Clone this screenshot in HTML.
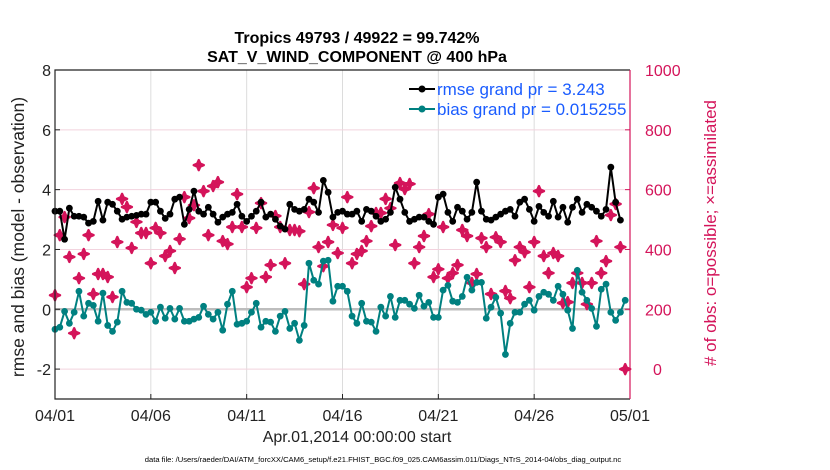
<!DOCTYPE html>
<html><head><meta charset="utf-8"><style>
html,body{margin:0;padding:0;background:#fff;}
svg{display:block;font-family:"Liberation Sans",Arial,sans-serif;}
</style></head><body>
<svg id="chart" width="830" height="470" viewBox="0 0 830 470" xmlns="http://www.w3.org/2000/svg">
<rect width="830" height="470" fill="#fff"/>
<text x="357" y="43" text-anchor="middle" font-size="16" font-weight="bold">Tropics 49793 / 49922 = 99.742%</text>
<text x="357" y="62" text-anchor="middle" font-size="16" font-weight="bold">SAT_V_WIND_COMPONENT @ 400 hPa</text>
<g id="grid"></g>
<g id="marks"></g>
<g id="axes"></g>
<text transform="translate(24,237) rotate(-90)" text-anchor="middle" font-size="17.5" fill="#222">rmse and bias (model - observation)</text>
<text transform="translate(716,233) rotate(-90)" text-anchor="middle" font-size="17" fill="#d4145a"># of obs: o=possible; ×=assimilated</text>
<text x="357" y="442" text-anchor="middle" font-size="16" fill="#222">Apr.01,2014 00:00:00 start</text>
<text x="383" y="462" text-anchor="middle" font-size="7.6" fill="#000">data file: /Users/raeder/DAI/ATM_forcXX/CAM6_setup/f.e21.FHIST_BGC.f09_025.CAM6assim.011/Diags_NTrS_2014-04/obs_diag_output.nc</text>
<g>
<line x1="409" y1="89" x2="435" y2="89" stroke="#000" stroke-width="2"/>
<circle cx="422" cy="89" r="3.5" fill="#000"/>
<text x="437" y="95" font-size="17" fill="#1a5cff">rmse grand pr = 3.243</text>
<line x1="409" y1="109" x2="435" y2="109" stroke="#008080" stroke-width="2"/>
<circle cx="422" cy="109" r="3.5" fill="#008080"/>
<text x="437" y="115" font-size="17" fill="#1a5cff">bias grand pr = 0.015255</text>
</g>
</svg>
<script>
const rmse = [3.28,3.28,2.34,3.38,3.11,3.11,3.08,2.88,2.94,3.61,2.98,3.58,3.51,3.28,3.01,3.08,3.11,3.14,3.18,
3.18,3.58,3.58,3.28,3.04,3.18,3.68,3.75,2.84,3.34,3.95,3.28,3.18,3.41,3.18,2.91,3.08,3.18,3.24,3.51,3.11,
2.94,3.11,3.28,3.58,3.08,3.18,3.01,2.78,2.68,3.51,3.34,3.28,3.34,3.68,3.58,3.24,4.31,3.91,3.08,3.24,
3.28,3.18,3.18,3.28,2.94,3.34,3.28,3.11,2.94,3.01,3.24,4.08,3.68,3.24,2.94,3.01,3.08,3.08,2.94,
2.84,3.75,3.85,3.24,2.94,3.41,3.28,3.01,3.24,4.25,3.28,3.01,2.98,3.08,3.18,3.28,3.34,3.11,3.58,3.68,
3.34,2.94,3.44,3.24,3.11,3.61,3.08,3.41,2.91,3.41,3.68,3.24,3.51,3.41,3.28,3.11,3.34,4.75,3.58,2.98];
const bias = [-0.67,-0.60,-0.07,-0.47,-0.10,0.60,-0.23,0.20,0.13,-0.40,0.54,-0.54,-0.74,-0.43,0.60,0.23,0.20,0,-0.03,
-0.17,-0.10,-0.40,0.07,-0.30,0.03,-0.33,0.03,-0.40,-0.40,-0.33,-0.27,0.10,-0.17,-0.33,-0.10,-0.70,0.17,0.60,-0.50,-0.47,
-0.40,-0.10,0.20,-0.60,-0.40,-0.43,-0.74,-0.23,-0.07,-0.64,-0.47,-1.04,-0.54,1.54,0.97,0.84,1.61,1.64,0.27,0.77,
0.77,0.60,-0.23,-0.47,0.20,-0.40,-0.43,-0.74,0.07,-0.23,0.43,-0.27,0.30,0.30,0.17,0.03,0.47,0.10,0.23,-0.27,
-0.27,0.64,0.80,0.27,0.23,0.43,1.07,0.64,0.90,0.90,-0.30,0.07,0.40,-0.13,-1.51,-0.47,-0.10,-0.10,0.17,0.30,
-0.03,0.43,0.57,0.50,0.30,0.77,0.50,-0.03,-0.64,1.30,0.57,0.30,0.03,-0.57,0.67,0.84,-0.10,-0.37,-0.10,0.30];
const obsCount = [247,448,508,375,120,304,385,448,251,318,318,308,241,425,569,542,405,492,455,455,
354,472,455,378,395,338,435,575,505,548,682,595,448,612,625,428,418,475,585,475,
274,304,472,555,308,348,512,475,354,465,465,461,284,525,605,408,344,425,482,388,
472,575,354,385,395,428,478,522,522,569,538,415,622,602,619,354,408,445,518,308,
334,475,304,321,348,465,445,288,318,438,408,251,441,425,261,237,364,408,391,274,
425,595,378,321,388,378,221,224,288,321,288,217,288,428,321,361,515,552,408,0];
const xTickLabels = ["04/01","04/06","04/11","04/16","04/21","04/26","05/01"];
const xTickDays = [0,5,10,15,20,25,30];
const yLeftTicks = [-2,0,2,4,6,8];
const yRightTicks = [0,200,400,600,800,1000];
const stepDays = 0.25;

const NS = "http://www.w3.org/2000/svg";
const L = 55, R = 630, T = 70, B = 399;
const xMin = 0, xMax = 30, yMin = -3, yMax = 8;
function xs(d){ return L + (d - xMin) / (xMax - xMin) * (R - L); }
function ys(v){ return B - (v - yMin) / (yMax - yMin) * (B - T); }
function yr(c){ return ys(c / 100 - 2); }
function mk(tag, attrs, parent){
  const e = document.createElementNS(NS, tag);
  for (const k in attrs) e.setAttribute(k, attrs[k]);
  parent.appendChild(e);
  return e;
}
const grid = document.getElementById('grid');
const marks = document.getElementById('marks');
const axes = document.getElementById('axes');

xTickDays.forEach((d, i) => {
  if (i > 0 && i < xTickDays.length - 1) {
    const g = mk('line', {x1: xs(d), x2: xs(d), y1: T, y2: B, stroke: '#dcdcdc', 'stroke-width': 1}, grid);
    
    
  }
  const t = mk('text', {x: xs(d), y: 421, 'text-anchor': 'middle', 'font-size': 16, fill: '#222'}, axes);
  t.textContent = xTickLabels[i];
  
  
  const tk = mk('line', {x1: xs(d), x2: xs(d), y1: B, y2: B - 5, stroke: '#222', 'stroke-width': 1}, axes);
  
  
});
yLeftTicks.forEach(v => {
  if (v !== 0 && v !== 8) {
    const g = mk('line', {x1: L, x2: R, y1: ys(v), y2: ys(v), stroke: '#f2d3de', 'stroke-width': 1}, grid);
    
    
  }
  const t = mk('text', {x: 51, y: ys(v) + 6, 'text-anchor': 'end', 'font-size': 16, fill: '#222'}, axes);
  t.textContent = v;
  
  
  const tk = mk('line', {x1: L, x2: L + 5, y1: ys(v), y2: ys(v), stroke: '#222', 'stroke-width': 1}, axes);
  
  
});
const zl = mk('line', {x1: L, x2: R, y1: ys(0), y2: ys(0), stroke: '#bdbdbd', 'stroke-width': 2.5}, grid);



yRightTicks.forEach(c => {
  const t = mk('text', {x: 645, y: yr(c) + 6, 'text-anchor': 'start', 'font-size': 16, fill: '#d4145a'}, axes);
  t.textContent = c;
  if (c === 0) t.setAttribute('x', 653);
  
  
  const tk = mk('line', {x1: R, x2: R - 5, y1: yr(c), y2: yr(c), stroke: '#d4145a', 'stroke-width': 1}, axes);
  
  
});

obsCount.forEach((c, i) => {
  const cx = xs(i * stepDays), cy = yr(c), s = 5;
  const p = mk('polygon', {points: `${cx},${cy-s} ${cx+1.5},${cy-1.5} ${cx+s},${cy} ${cx+1.5},${cy+1.5} ${cx},${cy+s} ${cx-1.5},${cy+1.5} ${cx-s},${cy} ${cx-1.5},${cy-1.5}`, fill: '#d4145a', stroke: '#d4145a', 'stroke-width': 2.4, 'stroke-linejoin': 'round'}, marks);
  
  
});

function series(vals, color, name){
  const pts = vals.map((v, i) => `${xs(i * stepDays).toFixed(1)},${ys(v).toFixed(1)}`).join(' ');
  const pl = mk('polyline', {points: pts, fill: 'none', stroke: color, 'stroke-width': 2, 'stroke-linejoin': 'round'}, marks);
  
  
  vals.forEach((v, i) => {
    const c = mk('circle', {cx: xs(i * stepDays), cy: ys(v), r: 3.4, fill: color}, marks);
    
    
  });
}
series(bias, '#008080', 'bias');
series(rmse, '#000000', 'rmse');

const lb = mk('polyline', {points: `${R},${T} ${L},${T} ${L},${B} ${R},${B}`, fill: 'none', stroke: '#222', 'stroke-width': 1.2}, axes);


const rs = mk('line', {x1: R, x2: R, y1: T, y2: B, stroke: '#d4145a', 'stroke-width': 1.2}, axes);


</script>
</body></html>
